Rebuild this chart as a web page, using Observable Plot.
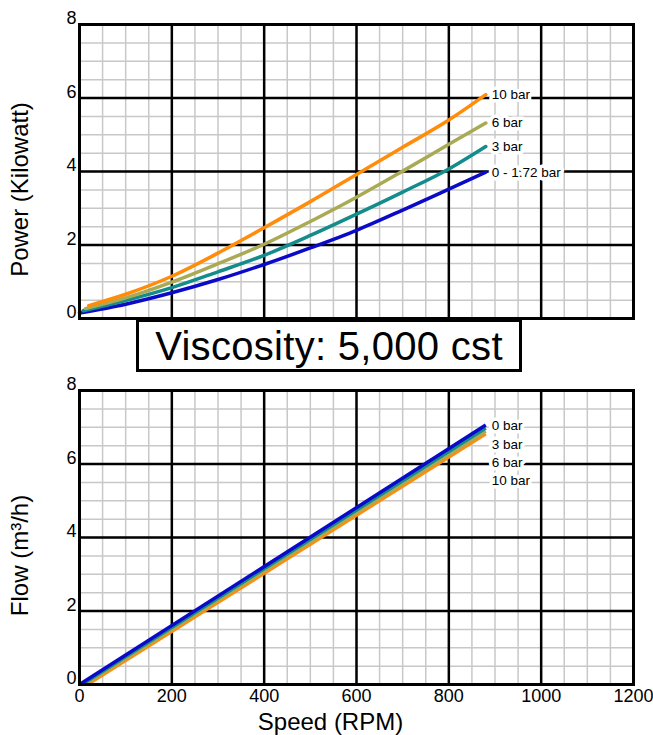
<!DOCTYPE html>
<html>
<head>
<meta charset="utf-8">
<script src="https://cdn.jsdelivr.net/npm/d3@7"></script>
<script src="https://cdn.jsdelivr.net/npm/@observablehq/plot@0.6"></script>
<style>
  html, body { margin: 0; padding: 0; background: #fff; }
  #wrap { position: relative; width: 653px; height: 735px; overflow: hidden; font-family: "Liberation Sans", Arial, sans-serif; }
  #wrap svg { position: absolute; left: 0; }
  #title {
    position: absolute; left: 136px; top: 319px; width: 380px; height: 47px;
    border: 3px solid #000; background: #fff; z-index: 2;
    display: flex; align-items: center; justify-content: center;
    font-size: 40px; color: #000; letter-spacing: 0.3px; line-height: 1;
  }
</style>
</head>
<body>
<div id="wrap"></div>
<script>
// ---- Data ----
const titleText = "Viscosity: 5,000 cst";
const speedTicks = [0, 200, 400, 600, 800, 1000, 1200];
const speedMinor = [0, 50, 100, 150, 200, 250, 300, 350, 400, 450, 500, 550, 600, 650, 700, 750, 800, 850, 900, 950, 1000, 1050, 1100, 1150, 1200];
const valueTicks = [0, 2, 4, 6, 8];
const valueMinor = [0, 0.5, 1, 1.5, 2, 2.5, 3, 3.5, 4, 4.5, 5, 5.5, 6, 6.5, 7, 7.5, 8];

const powerSeries = ["0 - 1.72 bar", "3 bar", "6 bar", "10 bar"];
const powerColors = ["#0a0ac8", "#148c8c", "#aaaa55", "#ff8c0a"];
const powerStartRpm = [0, 8, 13, 20];
const powerStartKw = [0.15, 0.21, 0.27, 0.35];
const powerRpm = [100, 200, 300, 400, 500, 600, 700, 800, 880];
const power0 = [0.39, 0.70, 1.06, 1.47, 1.92, 2.40, 2.95, 3.52, 3.98];
const power3 = [0.49, 0.84, 1.27, 1.72, 2.26, 2.84, 3.44, 4.07, 4.68];
const power6 = [0.56, 0.99, 1.49, 2.02, 2.64, 3.30, 4.01, 4.74, 5.32];
const power10 = [0.66, 1.15, 1.78, 2.47, 3.18, 3.92, 4.66, 5.40, 6.09];

const flowSeries = ["0 bar", "3 bar", "6 bar", "10 bar"];
const flowColors = ["#0a0ac8", "#148c8c", "#aaaa55", "#ff8c0a"];
const flowStartRpm = [0, 5, 10, 17];
const flowStart = [0, 0, 0, 0];
const flowEndRpm = [880, 880, 880, 880];
const flowEnd = [7.06, 6.98, 6.90, 6.82];

const yLabelPower = "Power (Kilowatt)";
const yLabelFlow = "Flow (m³/h)";
const xLabel = "Speed (RPM)";

// ---- Build tables ----
const powerValues = [power0, power3, power6, power10];
const powerData = [];
powerSeries.forEach((s, i) => {
  powerData.push({series: s, rpm: powerStartRpm[i], kw: powerStartKw[i]});
  powerRpm.forEach((r, j) => powerData.push({series: s, rpm: r, kw: powerValues[i][j]}));
});
const powerEnds = powerSeries.map((s, i) => ({series: s, rpm: powerRpm[powerRpm.length - 1], kw: powerValues[i][powerValues[i].length - 1]}));

const flowData = [];
flowSeries.forEach((s, i) => {
  flowData.push({series: s, rpm: flowStartRpm[i], q: flowStart[i]});
  flowData.push({series: s, rpm: flowEndRpm[i], q: flowEnd[i]});
});
const flowDrawOrder = flowData.slice().sort((a, b) => flowSeries.indexOf(b.series) - flowSeries.indexOf(a.series));

const FONT = '"Liberation Sans", Arial, sans-serif';

function gridMarks() {
  return [
    Plot.ruleX(speedMinor, {stroke: "#c8c8c8", strokeWidth: 1.5}),
    Plot.ruleY(valueMinor, {stroke: "#c8c8c8", strokeWidth: 1.5}),
    Plot.ruleX(speedTicks, {stroke: "#000", strokeWidth: 2.5}),
    Plot.ruleY(valueTicks, {stroke: "#000", strokeWidth: 2.5})
  ];
}

const wrap = document.getElementById("wrap");

// ---- Top chart: power ----
const powerChart = Plot.plot({
  width: 653, height: 322,
  marginTop: 24, marginBottom: 4, marginLeft: 79, marginRight: 20,
  style: {fontFamily: FONT, fontSize: "18px", color: "#000", background: "transparent", overflow: "visible"},
  x: {domain: [0, 1200], axis: null},
  y: {domain: [0, 8], axis: null},
  color: {domain: powerSeries, range: powerColors},
  marks: [
    ...gridMarks(),
    Plot.axisY(valueTicks, {tickSize: 0, tickPadding: 3, dy: -6, fontSize: 18, label: null, tickFormat: d => String(d)}),
    Plot.line(powerData, {x: "rpm", y: "kw", z: "series", stroke: "series", strokeWidth: 3.5, curve: "monotone-x"}),
    Plot.text(powerEnds, {x: "rpm", y: "kw", text: "series", textAnchor: "start", dx: 6, fontSize: 13.5,
      fill: "#000", stroke: "#fff", strokeWidth: 7}),
    Plot.frame({stroke: "#000", strokeWidth: 3}),
    Plot.text([yLabelPower], {frameAnchor: "left", textAnchor: "middle", lineAnchor: "middle", rotate: -90, dx: -59, dy: 18, fontSize: 24, fill: "#000"})
  ]
});
powerChart.style.top = "0px";
wrap.appendChild(powerChart);

// ---- Title box ----
const titleBox = document.createElement("div");
titleBox.id = "title";
titleBox.textContent = titleText;
wrap.appendChild(titleBox);

// ---- Bottom chart: flow ----
const flowLabelMarks = flowSeries.map((s, i) =>
  Plot.text([s], {x: () => flowEndRpm[0], y: () => flowEnd[0], text: d => d, textAnchor: "start", dx: 6, dy: 1 + i * 18.3,
    fontSize: 13.5, fill: "#000", stroke: "#fff", strokeWidth: 7})
);

const flowChart = Plot.plot({
  width: 653, height: 369,
  marginTop: 24, marginBottom: 51, marginLeft: 79, marginRight: 20,
  style: {fontFamily: FONT, fontSize: "18px", color: "#000", background: "transparent", overflow: "visible"},
  x: {domain: [0, 1200], axis: null},
  y: {domain: [0, 8], axis: null},
  color: {domain: flowSeries, range: flowColors},
  marks: [
    ...gridMarks(),
    Plot.axisY(valueTicks, {tickSize: 0, tickPadding: 3, dy: -6, fontSize: 18, label: null, tickFormat: d => String(d)}),
    Plot.axisX(speedTicks, {tickSize: 0, tickPadding: 5, fontSize: 18, label: null, tickFormat: d => String(d)}),
    Plot.line(flowDrawOrder, {x: "rpm", y: "q", z: "series", stroke: "series", strokeWidth: 3.5, strokeLinecap: "butt"}),
    ...flowLabelMarks,
    Plot.frame({stroke: "#000", strokeWidth: 3}),
    Plot.text([yLabelFlow], {frameAnchor: "left", textAnchor: "middle", lineAnchor: "middle", rotate: -90, dx: -59, dy: 18, fontSize: 24, fill: "#000"}),
    Plot.text([xLabel], {frameAnchor: "bottom", textAnchor: "middle", lineAnchor: "middle", dx: -26, dy: 38, fontSize: 24, fill: "#000"})
  ]
});
flowChart.style.top = "366px";
wrap.appendChild(flowChart);
</script>
</body>
</html>
